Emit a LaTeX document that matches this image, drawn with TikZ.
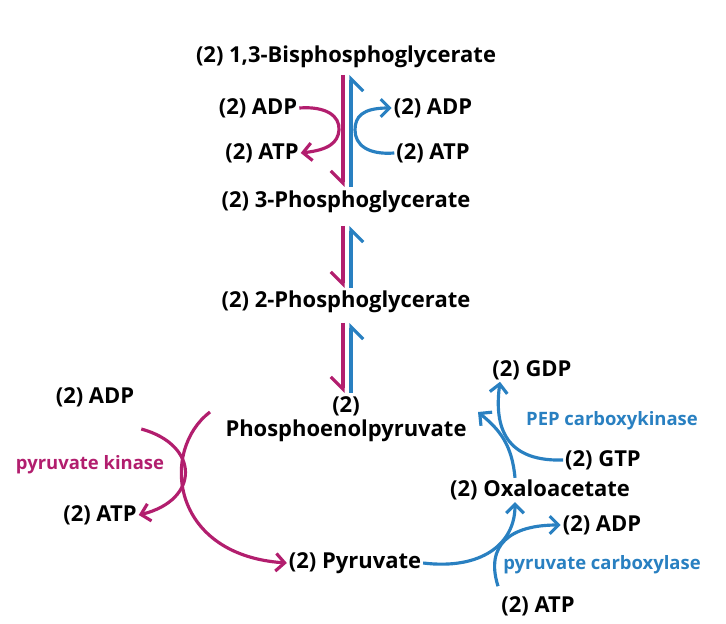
\documentclass[tikz,border=0pt]{standalone}
\usepackage{fontspec}
\setmainfont{Open Sans}
\usetikzlibrary{arrows.meta}
\definecolor{fwd}{RGB}{178,30,110}
\definecolor{bck}{RGB}{41,128,193}
\begin{document}
\begin{tikzpicture}[x=0.02cm,y=-0.02cm,
    every node/.style={font=\fontsize{12.5}{14}\selectfont\bfseries,inner sep=1pt},
    enz/.style={font=\fontsize{10.5}{12}\selectfont\bfseries},
    fl/.style={draw=fwd,line width=1.8pt},
    bl/.style={draw=bck,line width=1.8pt},
    hdn/.style={-{Straight Barb[harpoon,swap,length=7pt,width=14pt]}},
    hup/.style={-{Straight Barb[harpoon,swap,length=7pt,width=14pt]}},
    tip/.style={-{Straight Barb[length=5pt,width=10pt]}},
  ]
  \useasboundingbox (0,0) rectangle (726,624);
  % metabolites
  \node (bpg) at (346,57) {(2) 1,3-Bisphosphoglycerate};
  \node (pg3) at (346,202) {(2) 3-Phosphoglycerate};
  \node (pg2) at (346,302) {(2) 2-Phosphoglycerate};
  \node[align=center] (pep) at (346,419) {(2)\\Phosphoenolpyruvate};
  \node (pyr) at (355,563) {(2) Pyruvate};
  \node (oaa) at (540,490) {(2) Oxaloacetate};
  % cofactors
  \node (adpA) at (258,108) {(2) ADP};
  \node (atpA) at (262,153) {(2) ATP};
  \node (adpB) at (433,108) {(2) ADP};
  \node (atpB) at (433,153) {(2) ATP};
  \node (adpK) at (95,397) {(2) ADP};
  \node (atpK) at (100,515) {(2) ATP};
  \node (gdp) at (532,370) {(2) GDP};
  \node (gtp) at (603,460) {(2) GTP};
  \node (adpC) at (602,525) {(2) ADP};
  \node (atpC) at (538,606) {(2) ATP};
  % enzymes
  \node[enz,text=fwd] (pk) at (90,465) {pyruvate kinase};
  \node[enz,text=bck] (pck) at (612,421) {PEP carboxykinase};
  \node[enz,text=bck] (pc) at (602,565) {pyruvate carboxylase};
  % paired arrows
  \coordinate (m1) at (343,75);  \coordinate (m2) at (343,187);
  \coordinate (b1) at (351,75);  \coordinate (b2) at (351,187);
  \draw[fl,hdn] (m1) -- (m2);
  \draw[bl,hup] (b2) -- (b1);
  \coordinate (m3) at (343,226); \coordinate (m4) at (343,288);
  \coordinate (b3) at (351,226); \coordinate (b4) at (351,288);
  \draw[fl,hdn] (m3) -- (m4);
  \draw[bl,hup] (b4) -- (b3);
  \coordinate (m5) at (343,323); \coordinate (m6) at (343,393);
  \coordinate (b5) at (351,323); \coordinate (b6) at (351,393);
  \draw[fl,hdn] (m5) -- (m6);
  \draw[bl,hup] (b6) -- (b5);
  % side reactions
  \draw[fl,tip] (adpA.east) .. controls (326,106) and (340,116) .. (339,130)
    .. controls (338,143) and (328,150) .. (atpA.east);
  \draw[bl,tip] (atpB.west) .. controls (368,155) and (355,145) .. (355,130)
    .. controls (355,117) and (362,108) .. (adpB.west);
  % pyruvate kinase
  \draw[fl,tip] (210,412) .. controls (160,450) and (170,555) .. (pyr.west);
  \draw[fl,tip] (adpK.east) ++(5,32) .. controls (200,445) and (200,500) .. (atpK.east);
  % pyruvate carboxylase
  \draw[bl,tip] (pyr.east) .. controls (480,570) and (515,545) .. (oaa.south -| 515,0);
  \draw[bl,tip] (atpC.north) ++(-40,-8) .. controls (485,545) and (510,525) .. (adpC.west);
  % PEP carboxykinase
  \draw[bl,tip] (oaa.north -| 515,0) .. controls (512,445) and (500,430) .. (478,412);
  \draw[bl,tip] (gtp.west) .. controls (500,462) and (495,420) .. (gdp.south -| 500,0);
\end{tikzpicture}
\end{document}
